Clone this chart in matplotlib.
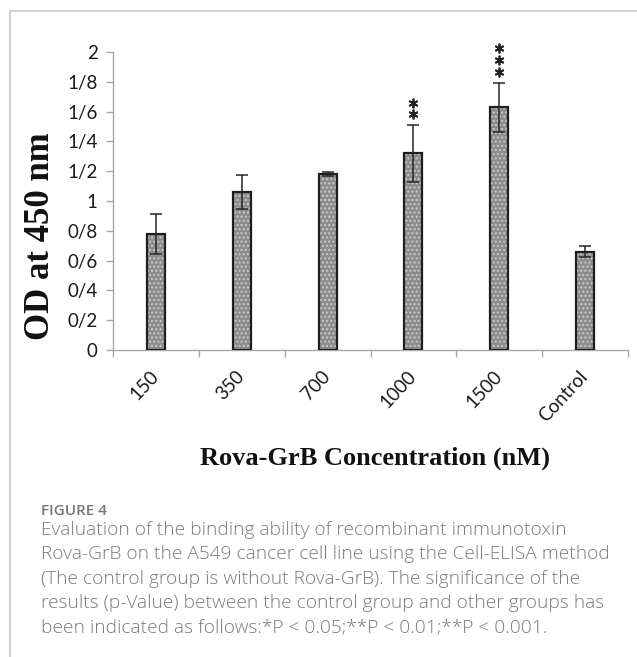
"""Cell-ELISA binding of Rova-GrB, bar chart with caption."""
import numpy as np
import matplotlib
matplotlib.use("Agg")
import matplotlib.pyplot as plt
from matplotlib.lines import Line2D

# data
groups = ["150", "350", "700", "1000", "1500", "Control"]
od_mean = [0.78, 1.06, 1.18, 1.32, 1.63, 0.66]
od_err = [0.135, 0.115, 0.015, 0.19, 0.165, 0.038]
n_stars = [0, 0, 0, 2, 3, 0]
ytick_vals = [0, 0.2, 0.4, 0.6, 0.8, 1.0, 1.2, 1.4, 1.6, 1.8, 2.0]
ytick_text = ["0", "0/2", "0/4", "0/6", "0/8", "1", "1/2", "1/4", "1/6", "1/8", "2"]

caption_head = "FIGURE 4"
caption_lines = [
    "Evaluation of the binding ability of recombinant immunotoxin",
    "Rova-GrB on the A549 cancer cell line using the Cell-ELISA method",
    "(The control group is without Rova-GrB). The significance of the",
    "results (p-Value) between the control group and other groups has",
    "been indicated as follows:*P < 0.05;**P < 0.01;**P < 0.001.",
]

W, H = 637, 657
fig = plt.figure(figsize=(W / 100, H / 100), dpi=100)

def fx(px):
    return px / W

def fy(py):
    return 1 - py / H

ax = fig.add_axes([fx(113), fy(350), fx(628) - fx(113), fy(52) - fy(350)])

x = np.arange(len(groups))
ax.bar(x, od_mean, width=0.21, color="#8c8c8c", edgecolor="#c9c9c9",
       hatch="....", linewidth=0, zorder=2)
ax.bar(x, od_mean, width=0.21, fill=False, edgecolor="#1e1e1e",
       linewidth=1.6, zorder=3)
ax.errorbar(x, od_mean, yerr=od_err, fmt="none", ecolor="#262626",
            elinewidth=1.1, capsize=4.5, capthick=1.1, zorder=4)

# significance stars stacked above the error bars
step = 0.079
for xi, m, e, k in zip(x, od_mean, od_err, n_stars):
    for j in range(k):
        ax.plot(xi, m + e + step * (j + 0.9), marker=(6, 2, 0),
                markersize=7, markeredgewidth=1.3, color="#222222",
                zorder=5, clip_on=False)

ax.set_xlim(-0.5, len(groups) - 0.5)
ax.set_ylim(0, 2)
ax.set_yticks(ytick_vals)
ax.set_yticklabels(ytick_text)
ax.set_xticks(np.arange(len(groups) + 1) - 0.5, minor=False)
ax.set_xticklabels([])
ax.set_xticks(x, minor=True)
ax.set_xticklabels(groups, minor=True, rotation=47, ha="right",
                   va="center", rotation_mode="anchor")

for s in ["top", "right"]:
    ax.spines[s].set_visible(False)
for s in ["left", "bottom"]:
    ax.spines[s].set_color("#a8a8a8")
    ax.spines[s].set_linewidth(1.0)

ax.tick_params(axis="y", length=5, color="#a8a8a8", width=1.0, pad=6,
               labelsize=13.5, labelcolor="#1a1a1a")
ax.tick_params(axis="x", which="major", length=5, color="#a8a8a8", width=1.0)
ax.tick_params(axis="x", which="minor", length=0, pad=17,
               labelsize=13.5, labelcolor="#1a1a1a")
for lab in ax.get_yticklabels() + ax.get_xticklabels(minor=True):
    lab.set_fontfamily(["Lato", "DejaVu Sans"])

fig.text(fx(41), fy(236), "OD at 450 nm", rotation=90, ha="center",
         va="center", fontsize=25, fontweight="bold",
         family="Liberation Serif", color="#111111")
fig.text(fx(375), fy(458), "Rova-GrB Concentration (nM)", ha="center",
         va="center", fontsize=19, fontweight="bold",
         family="Liberation Serif", color="#111111")

# frame lines of the figure panel
fig.add_artist(Line2D([fx(9.5), 1], [fy(11), fy(11)], color="#c8c8c8",
                      linewidth=1.2))
fig.add_artist(Line2D([fx(9.5), fx(9.5)], [fy(11), 0], color="#c8c8c8",
                      linewidth=1.2))

fig.text(fx(41), fy(511), caption_head, ha="left", va="center",
         fontsize=11, fontweight="semibold", family="Open Sans",
         color="#777777")
for i, line in enumerate(caption_lines):
    fig.text(fx(41), fy(530 + 24.3 * i), line, ha="left", va="center",
             fontsize=13.8, fontweight="light", family="Open Sans",
             color="#7a7a7a")

fig.savefig("out.png", dpi=100)
